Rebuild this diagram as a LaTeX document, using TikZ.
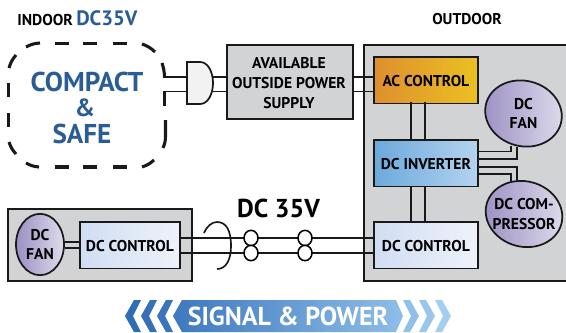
\documentclass[tikz,border=0pt]{standalone}
\usepackage{fontspec}
\setmainfont{PT Sans}
\usetikzlibrary{shapes.geometric,calc}
\definecolor{panel}{HTML}{D1D3D4}
\definecolor{titleblue}{HTML}{2A5C96}
\definecolor{blobL}{HTML}{9C8FC3}
\definecolor{blobR}{HTML}{DEDDEC}
\tikzset{
  x=0.75pt,y=-0.75pt,
  px/.style={font=\fontsize{#1}{#1}\selectfont\bfseries,inner sep=0pt,text=black},
  label/.style={px=11.7},
  lines/.style={font=\fontsize{11.7}{#1}\selectfont\bfseries,inner sep=0pt,text=black,align=center},
  big/.style={px=20.4,text=titleblue},
  wire/.style={line width=1.25pt,black!90},
  box/.style={draw=black!90,line width=1.3pt,rectangle,inner sep=0pt,anchor=north west},
  ctrlbox/.style={box,minimum width=78pt,minimum height=35pt},
  panelbox/.style={box,fill=panel},
  blob/.style={draw=black!90,line width=1.3pt,ellipse,inner sep=0pt,left color=blobL,right color=blobR},
  dashpart/.style={line width=2.3pt,black!90},
  ring/.style={draw=black,line width=1.15pt,fill=white,ellipse,inner sep=0pt,minimum width=10.5pt,minimum height=11.5pt},
}
\begin{document}
\begin{tikzpicture}
\useasboundingbox (0,0) rectangle (566,332);
\clip (0,0) rectangle (566,332);
% headings
\node[px=11.8,anchor=west] (indoor) at (17,19.5) {INDOOR};
\node[px=15.6,anchor=west,text=titleblue] (dcv) at (76,18) {DC35V};
\node[px=11.7] (outdoor) at (467,19.5) {OUTDOOR};
% dashed outline
\draw[dashpart] (26,47) to[bend left=12] (40,43);
\foreach \a/\b in {55/69,83/97,113/127} {
  \draw[dashpart] (\a,43.5) -- (\b,43.5);
  \draw[dashpart] (\a,167) -- (\b,167);
}
\draw[dashpart] (142,44) to[bend left=12] (155,52);
\draw[dashpart] (162,63) to[bend left=8] (164.5,77);
\draw[dashpart] (164.5,92) -- (164.5,106);
\draw[dashpart] (165.5,120) -- (165.5,135) to[bend left=12] (163,148);
\draw[dashpart] (154,160) to[bend left=12] (142,167);
\draw[dashpart] (39,167) to[bend left=12] (26,163);
\draw[dashpart] (16,154) to[bend left=12] (9,142);
\draw[dashpart] (8.5,127) -- (8.5,113);
\draw[dashpart] (8.5,97) -- (8.5,83);
\draw[dashpart] (9,68) to[bend left=12] (16,55);
\node[big] (compact) at (87,82) {COMPACT};
\node[big,px=18.6,text=titleblue] (amp) at (85,107.5) {\&};
\node[big] (safe) at (82,133.5) {SAFE};
% panels
\node[panelbox,minimum width=94.5pt,minimum height=55.5pt] (power) at (226,44) {};
\node[lines=15] (powertext) at (289,83) {AVAILABLE\\OUTSIDE POWER\\SUPPLY};
\node[panelbox,minimum width=170pt,minimum height=177pt] (outbox) at (363,44) {};
\node[panelbox,minimum width=138pt,minimum height=54pt] (inbox) at (7,208) {};
% control boxes
\node[ctrlbox,left color={rgb,255:red,222;green,143;blue,46},right color={rgb,255:red,235;green,192;blue,34}] (ac) at (373,56) {};
\node[label] at ([yshift=-0.5pt]ac.center) {AC CONTROL};
\node[ctrlbox,left color={rgb,255:red,107;green,169;blue,220},right color={rgb,255:red,181;green,211;blue,239}] (inv) at (373,139) {};
\node[label] at ([yshift=-0.7pt]inv.center) {DC INVERTER};
\node[ctrlbox,left color={rgb,255:red,208;green,221;blue,242},right color={rgb,255:red,238;green,242;blue,250}] (ctrlR) at (373,221) {};
\node[label] at ([yshift=-1pt]ctrlR.center) {DC CONTROL};
\node[ctrlbox,minimum width=75pt,left color={rgb,255:red,208;green,221;blue,242},right color={rgb,255:red,238;green,242;blue,250}] (ctrlL) at (79,221) {};
\node[label] at ([yshift=-1pt]ctrlL.center) {DC CONTROL};
% vertical wires
\foreach \x in {411,425} {
  \draw[wire] (\x,102) -- (\x,139);
  \draw[wire] (\x,186) -- (\x,221);
}
% fans
\node[blob,rotate=-15,minimum width=58pt,minimum height=49pt] (fanR) at (523.5,113.5) {};
\node[lines=14.3] at (fanR.center) {DC\\FAN};
\node[blob,rotate=-15,minimum width=58pt,minimum height=49pt] (comp) at (524,214) {};
\node[lines=15] at (comp.center) {DC COM-\\PRESSOR};
\node[blob,minimum width=36pt,minimum height=46pt] (fanL) at (40,244.5) {};
\node[lines=13.8] at (fanL.center) {DC\\FAN};
% inverter to motors
\draw[wire] (inv.east |- 0,151.5) -| (511,146);
\draw[wire] (inv.east |- 0,158.7) -| (517,147);
\draw[wire] (inv.east |- 0,166.7) -| (517,180);
\draw[wire] (inv.east |- 0,174) -| (511,181);
% horizontal wires
\foreach \y in {77,91.5} {
  \draw[wire] (163,\y) -- (187,\y);
  \draw[wire] (213,\y) -- (power.west |- 0,\y);
  \draw[wire] (power.east |- 0,\y) -- (ac.west |- 0,\y);
}
\foreach \y in {242,248} \draw[wire] (fanL.east |- 0,\y) -- (ctrlL.west |- 0,\y);
\foreach \y in {238,253} \draw[wire] (ctrlL.east |- 0,\y) -- (ctrlR.west |- 0,\y);
% plug
\draw[line width=1.3pt,black!90,fill=black!5] (187,62) -- (200,62) .. controls (208,62) and (213,72) .. (213,83) .. controls (213,94) and (208,104) .. (200,104) -- (187,104) -- cycle;
% tie and rings
\draw[wire] (204,233) .. controls (207,226) and (212,222) .. (217,222) .. controls (226,222) and (231,230) .. (231,246) .. controls (231,260) and (226,269) .. (217,269);
\node[ring] (r1) at (251,238) {};
\node[ring] (r2) at (251,253) {};
\node[ring] (r3) at (305,238) {};
\node[ring] (r4) at (305,253) {};
\node[px=19.4] (dc35) at (278.5,208) {DC 35V};
% banner
\shade[left color={rgb,255:red,62;green,120;blue,190},right color={rgb,255:red,142;green,190;blue,232}] (173,316) -- (182,300) -- (396,300) -- (403,316) -- (396,332) -- (182,332) -- cycle;
\foreach \x/\c in {125/2F6DB5,141/3570B8,157/3A74BB} {
  \definecolor{cc}{HTML}{\c}
  \fill[cc] (\x,316) -- (\x+9,300) -- (\x+16,300) -- (\x+8,316) -- (\x+16,332) -- (\x+9,332) -- cycle;
}
\foreach \x/\c in {411/90C0E8,427/98C7EB,443/A2CEEF} {
  \definecolor{cc}{HTML}{\c}
  \fill[cc] (\x-8,300) -- (\x-1,300) -- (\x+8,316) -- (\x-1,332) -- (\x-8,332) -- (\x,316) -- cycle;
}
\node[px=19.5,text=white] (signal) at (288,316.5) {SIGNAL \& POWER};
\end{tikzpicture}
\end{document}
